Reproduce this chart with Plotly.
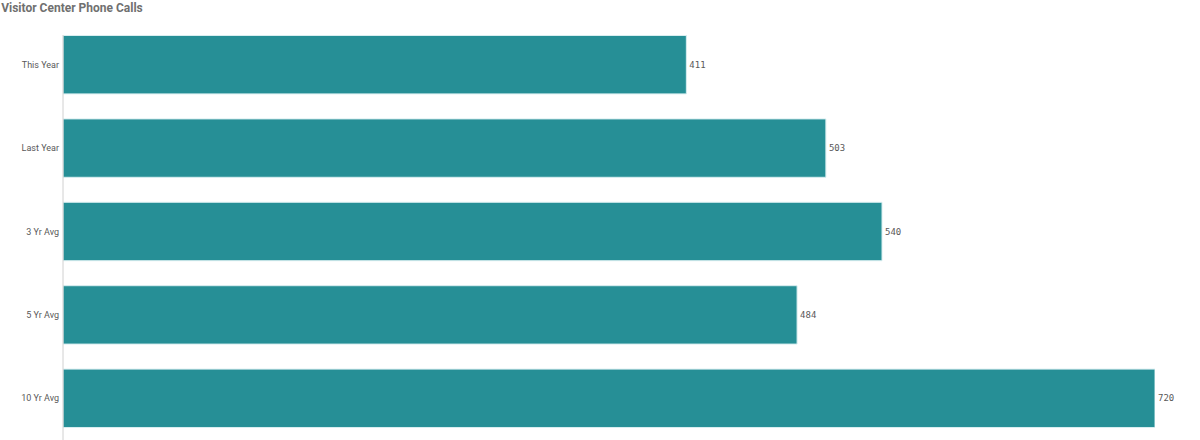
import plotly.graph_objects as go

categories = ["This Year", "Last Year", "3 Yr Avg", "5 Yr Avg", "10 Yr Avg"]
calls = [411, 503, 540, 484, 720]

fig = go.Figure(
    data=[go.Bar(
        y=categories,
        x=calls,
        orientation="h",
        marker=dict(color="#268f96", line=dict(color="#d8eef0", width=1)),
        text=[str(v) for v in calls],
        textposition="outside",
        textfont=dict(family="DejaVu Sans Mono", size=9, color="#595959"),
        cliponaxis=False,
        hoverinfo="skip",
    )],
)

fig.update_layout(
    width=1200, height=440,
    margin=dict(l=63, r=45, t=23, b=0),
    paper_bgcolor="white", plot_bgcolor="white",
    bargap=0.30,
    showlegend=False,
    title=dict(
        text="<b>Visitor Center Phone Calls</b>",
        x=0.001, xref="container", xanchor="left",
        y=1 - 8 / 440, yref="container", yanchor="middle",
        font=dict(family="Roboto", size=12, color="#707070"),
    ),
)

# axis line starts just above the first bar, not at the top of the plot area
fig.add_shape(
    type="line", xref="paper", yref="paper",
    x0=0, x1=0, y0=0, y1=(440 - 35) / 417,
    line=dict(color="#d0d0d0", width=1),
)

fig.update_xaxes(range=[0, 720], visible=False)
fig.update_yaxes(
    categoryorder="array", categoryarray=categories, autorange="reversed",
    showline=False, showgrid=False, ticks="", ticklen=0,
    ticklabelstandoff=3,
    tickfont=dict(family="Roboto", size=9, color="#595959"),
)

# page body has a default 8px margin, drop it so the chart sits at 0,0
fig.write_html(
    "out.html",
    config={"displayModeBar": False},
    post_script="document.body.style.margin='0px';",
)
